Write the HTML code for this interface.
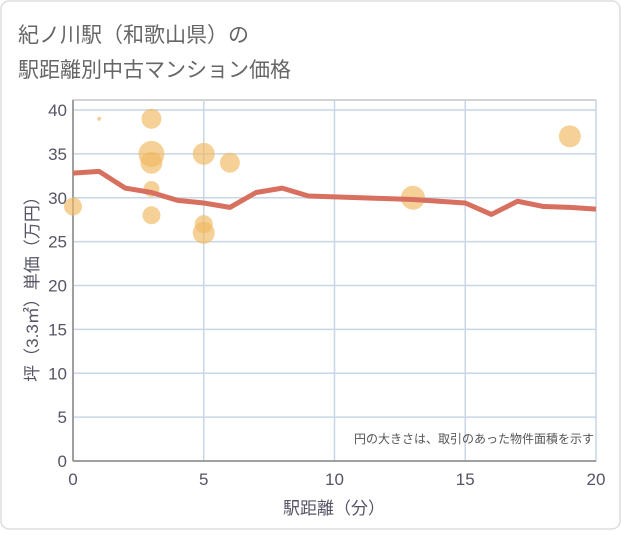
<!DOCTYPE html>
<html><head><meta charset="utf-8"><style>
body{margin:0;background:#fff;font-family:"Liberation Sans","Noto Sans CJK JP",sans-serif;}
#wrap{position:relative;width:621px;height:530px;}
</style></head><body>
<div id="wrap">
<svg id="svg" width="621" height="530" xmlns="http://www.w3.org/2000/svg" font-family="Liberation Sans, Noto Sans CJK JP, sans-serif">
<rect x="1" y="1" width="619" height="528" rx="8" fill="#fff" stroke="#ddd" stroke-width="1.5"/>
<text x="18" y="42" font-size="21" fill="#666">紀ノ川駅（和歌山県）の</text>
<text x="18" y="77" font-size="21" fill="#666">駅距離別中古マンション価格</text>
<g id="grid"></g>
<g id="axes"></g>
<g id="bubbles"></g>
<g id="line"></g>
<text x="594" y="443" font-size="12" fill="#555" text-anchor="end">円の大きさは、取引のあった物件面積を示す</text>
<text x="334" y="514" font-size="17" fill="#556" text-anchor="middle">駅距離（分）</text>
<text transform="translate(38,285) rotate(-90)" font-size="17" fill="#556" text-anchor="middle">坪（3.3㎡）単価（万円）</text>
</svg>
</div>
<script>
const xTicks=[0,5,10,15,20];
const yTicks=[0,5,10,15,20,25,30,35,40];
const lineX=[0,1,2,3,4,5,6,7,8,9,10,11,12,13,14,15,16,17,18,19,20];
const lineY=[32.8,33.0,31.1,30.6,29.7,29.4,28.9,30.6,31.1,30.2,30.1,30.0,29.9,29.8,29.6,29.4,28.1,29.6,29.0,28.9,28.7];
const ptX=[0,1,3,3,3,3,3,5,5,5,6,13,19];
const ptY=[29,39,39,35,34,31,28,35,27,26,34,30,37];
const ptR=[9,2,10,13,11,8,9,11,9,11,10,12,11];
const X0=73,X1=596,Y0=461,Y1=110;
const sx=v=>X0+(v-0)/20*(X1-X0);
const sy=v=>Y0-(v-0)/40*(Y0-Y1);
const NS="http://www.w3.org/2000/svg";
function mk(t,a,p){const e=document.createElementNS(NS,t);for(const k in a)e.setAttribute(k,a[k]);p.appendChild(e);return e;}
const grid=document.getElementById('grid'),axes=document.getElementById('axes');
mk('rect',{x:X0,y:100,width:X1-X0,height:Y0-100,fill:'none',stroke:'#aaa','stroke-width':1},grid);
yTicks.forEach(v=>{const l=mk('line',{x1:X0,x2:X1,y1:sy(v),y2:sy(v),stroke:'#c8d6e6','stroke-width':1.5},grid);


const t=mk('text',{x:X0-6,y:sy(v)+6,'font-size':17,fill:'#556','text-anchor':'end'},axes);t.textContent=v;

});
xTicks.forEach(v=>{const l=mk('line',{x1:sx(v),x2:sx(v),y1:100,y2:Y0,stroke:'#c8d6e6','stroke-width':1.5},grid);


const t=mk('text',{x:sx(v),y:485,'font-size':17,fill:'#556','text-anchor':'middle'},axes);t.textContent=v;

});
mk('line',{x1:X0,x2:X0,y1:100,y2:Y0,stroke:'#888','stroke-width':1.5},axes);
mk('line',{x1:X0,x2:X1,y1:Y0,y2:Y0,stroke:'#888','stroke-width':1.5},axes);
const bub=document.getElementById('bubbles');
ptX.forEach((x,i)=>{const c=mk('circle',{cx:sx(x),cy:sy(ptY[i]),r:ptR[i],fill:'#f0b860','fill-opacity':0.65},bub);

});
const pl=mk('polyline',{points:lineX.map((x,i)=>sx(x)+','+sy(lineY[i])).join(' '),fill:'none',stroke:'#d87060','stroke-width':5,'stroke-linejoin':'round'},document.getElementById('line'));


</script>
</body></html>
